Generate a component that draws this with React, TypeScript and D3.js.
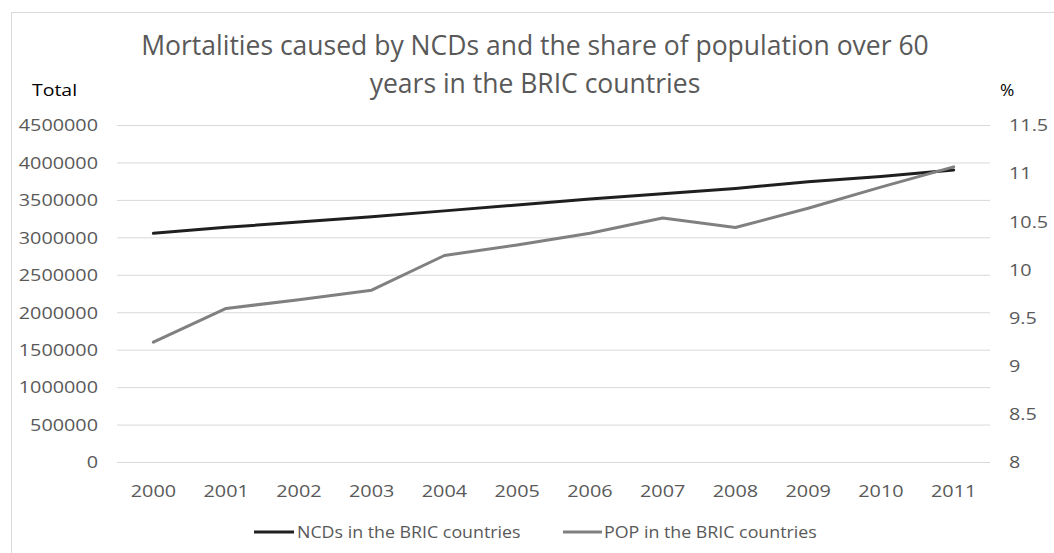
import React from "react";
import * as d3 from "d3";

const years = ["2000","2001","2002","2003","2004","2005","2006","2007","2008","2009","2010","2011"];
const ncds = [3060000,3140000,3210000,3280000,3360000,3440000,3520000,3590000,3660000,3750000,3820000,3906000];
const pop = [9.25,9.60,9.69,9.79,10.15,10.26,10.38,10.54,10.44,10.64,10.86,11.07];
const leftTicks = [0,500000,1000000,1500000,2000000,2500000,3000000,3500000,4000000,4500000];
const rightTicks = [8,8.5,9,9.5,10,10.5,11,11.5];
const titleLines = ["Mortalities caused by NCDs and the share of population over 60","years in the BRIC countries"];
const seriesNames = ["NCDs in the BRIC countries","POP in the BRIC countries"];

const W = 1054, H = 553;
const plotL = 117, plotR = 990, plotT = 125.5, plotB = 462.5;
const FONT = "'Open Sans', 'Noto Sans', sans-serif";
const FS = 16.5;
const SX = 1.2;

function T(props: { x: number; y: number; sx: number; anchor?: string; fill?: string; fs?: number; children: React.ReactNode }) {
  const { x, y, sx, anchor = "start", fill = "#595959", fs = FS, children } = props;
  return (
    <text transform={`translate(${x},${y}) scale(${sx},1)`} dy="0.35em" textAnchor={anchor as any} fontFamily={FONT} fontSize={fs} fill={fill}>
      {children}
    </text>
  );
}

export default function App() {
  const x = d3.scaleBand<string>().domain(years).range([plotL, plotR]).paddingInner(0).paddingOuter(0);
  const yL = d3.scaleLinear().domain([0, 4500000]).range([plotB, plotT]);
  const yR = d3.scaleLinear().domain([8, 11.5]).range([plotB, plotT]);
  const cx = (d: string) => (x(d) as number) + x.bandwidth() / 2;
  const lineL = d3.line<number>().x((_, i) => cx(years[i])).y((d) => yL(d));
  const lineR = d3.line<number>().x((_, i) => cx(years[i])).y((d) => yR(d));
  return (
    <svg width={W} height={H} style={{ position: "absolute", left: 0, top: 0, display: "block" }}>
      <rect x={0} y={0} width={W} height={H} fill="#fff" />
      <rect x={11.5} y={12.5} width={W} height={H} fill="none" stroke="#d9d9d9" strokeWidth={1} />
      {titleLines.map((t, i) => (
        <text key={i} x={535} y={55 + i * 38} textAnchor="middle" fontFamily={FONT} fontSize={26.5} fill="#595959">
          {t}
        </text>
      ))}
      <T x={32} y={90} sx={1.18} fill="#000">Total</T>
      <T x={1000} y={90} sx={1.05} fill="#000">%</T>
      {leftTicks.map((t) => (
        <line key={t} x1={plotL} x2={plotR} y1={yL(t)} y2={yL(t)} stroke="#d9d9d9" strokeWidth={1} />
      ))}
      {leftTicks.map((t) => (
        <T key={t} x={98} y={yL(t)} sx={SX} anchor="end">{t}</T>
      ))}
      {rightTicks.map((t) => (
        <T key={t} x={1009} y={yR(t)} sx={SX}>{t}</T>
      ))}
      {years.map((yv) => (
        <T key={yv} x={cx(yv)} y={491} sx={SX} anchor="middle">{yv}</T>
      ))}
      <path d={lineL(ncds) || ""} fill="none" stroke="#1f1f1f" strokeWidth={3} strokeLinejoin="round" strokeLinecap="round" />
      <path d={lineR(pop) || ""} fill="none" stroke="#808080" strokeWidth={3} strokeLinejoin="round" strokeLinecap="round" />
      <g>
        <line x1={254} x2={294} y1={532} y2={532} stroke="#1f1f1f" strokeWidth={3} />
        <T x={297} y={532} sx={1.08}>{seriesNames[0]}</T>
        <line x1={563} x2={602} y1={532} y2={532} stroke="#808080" strokeWidth={3} />
        <T x={604} y={532} sx={1.08}>{seriesNames[1]}</T>
      </g>
    </svg>
  );
}
